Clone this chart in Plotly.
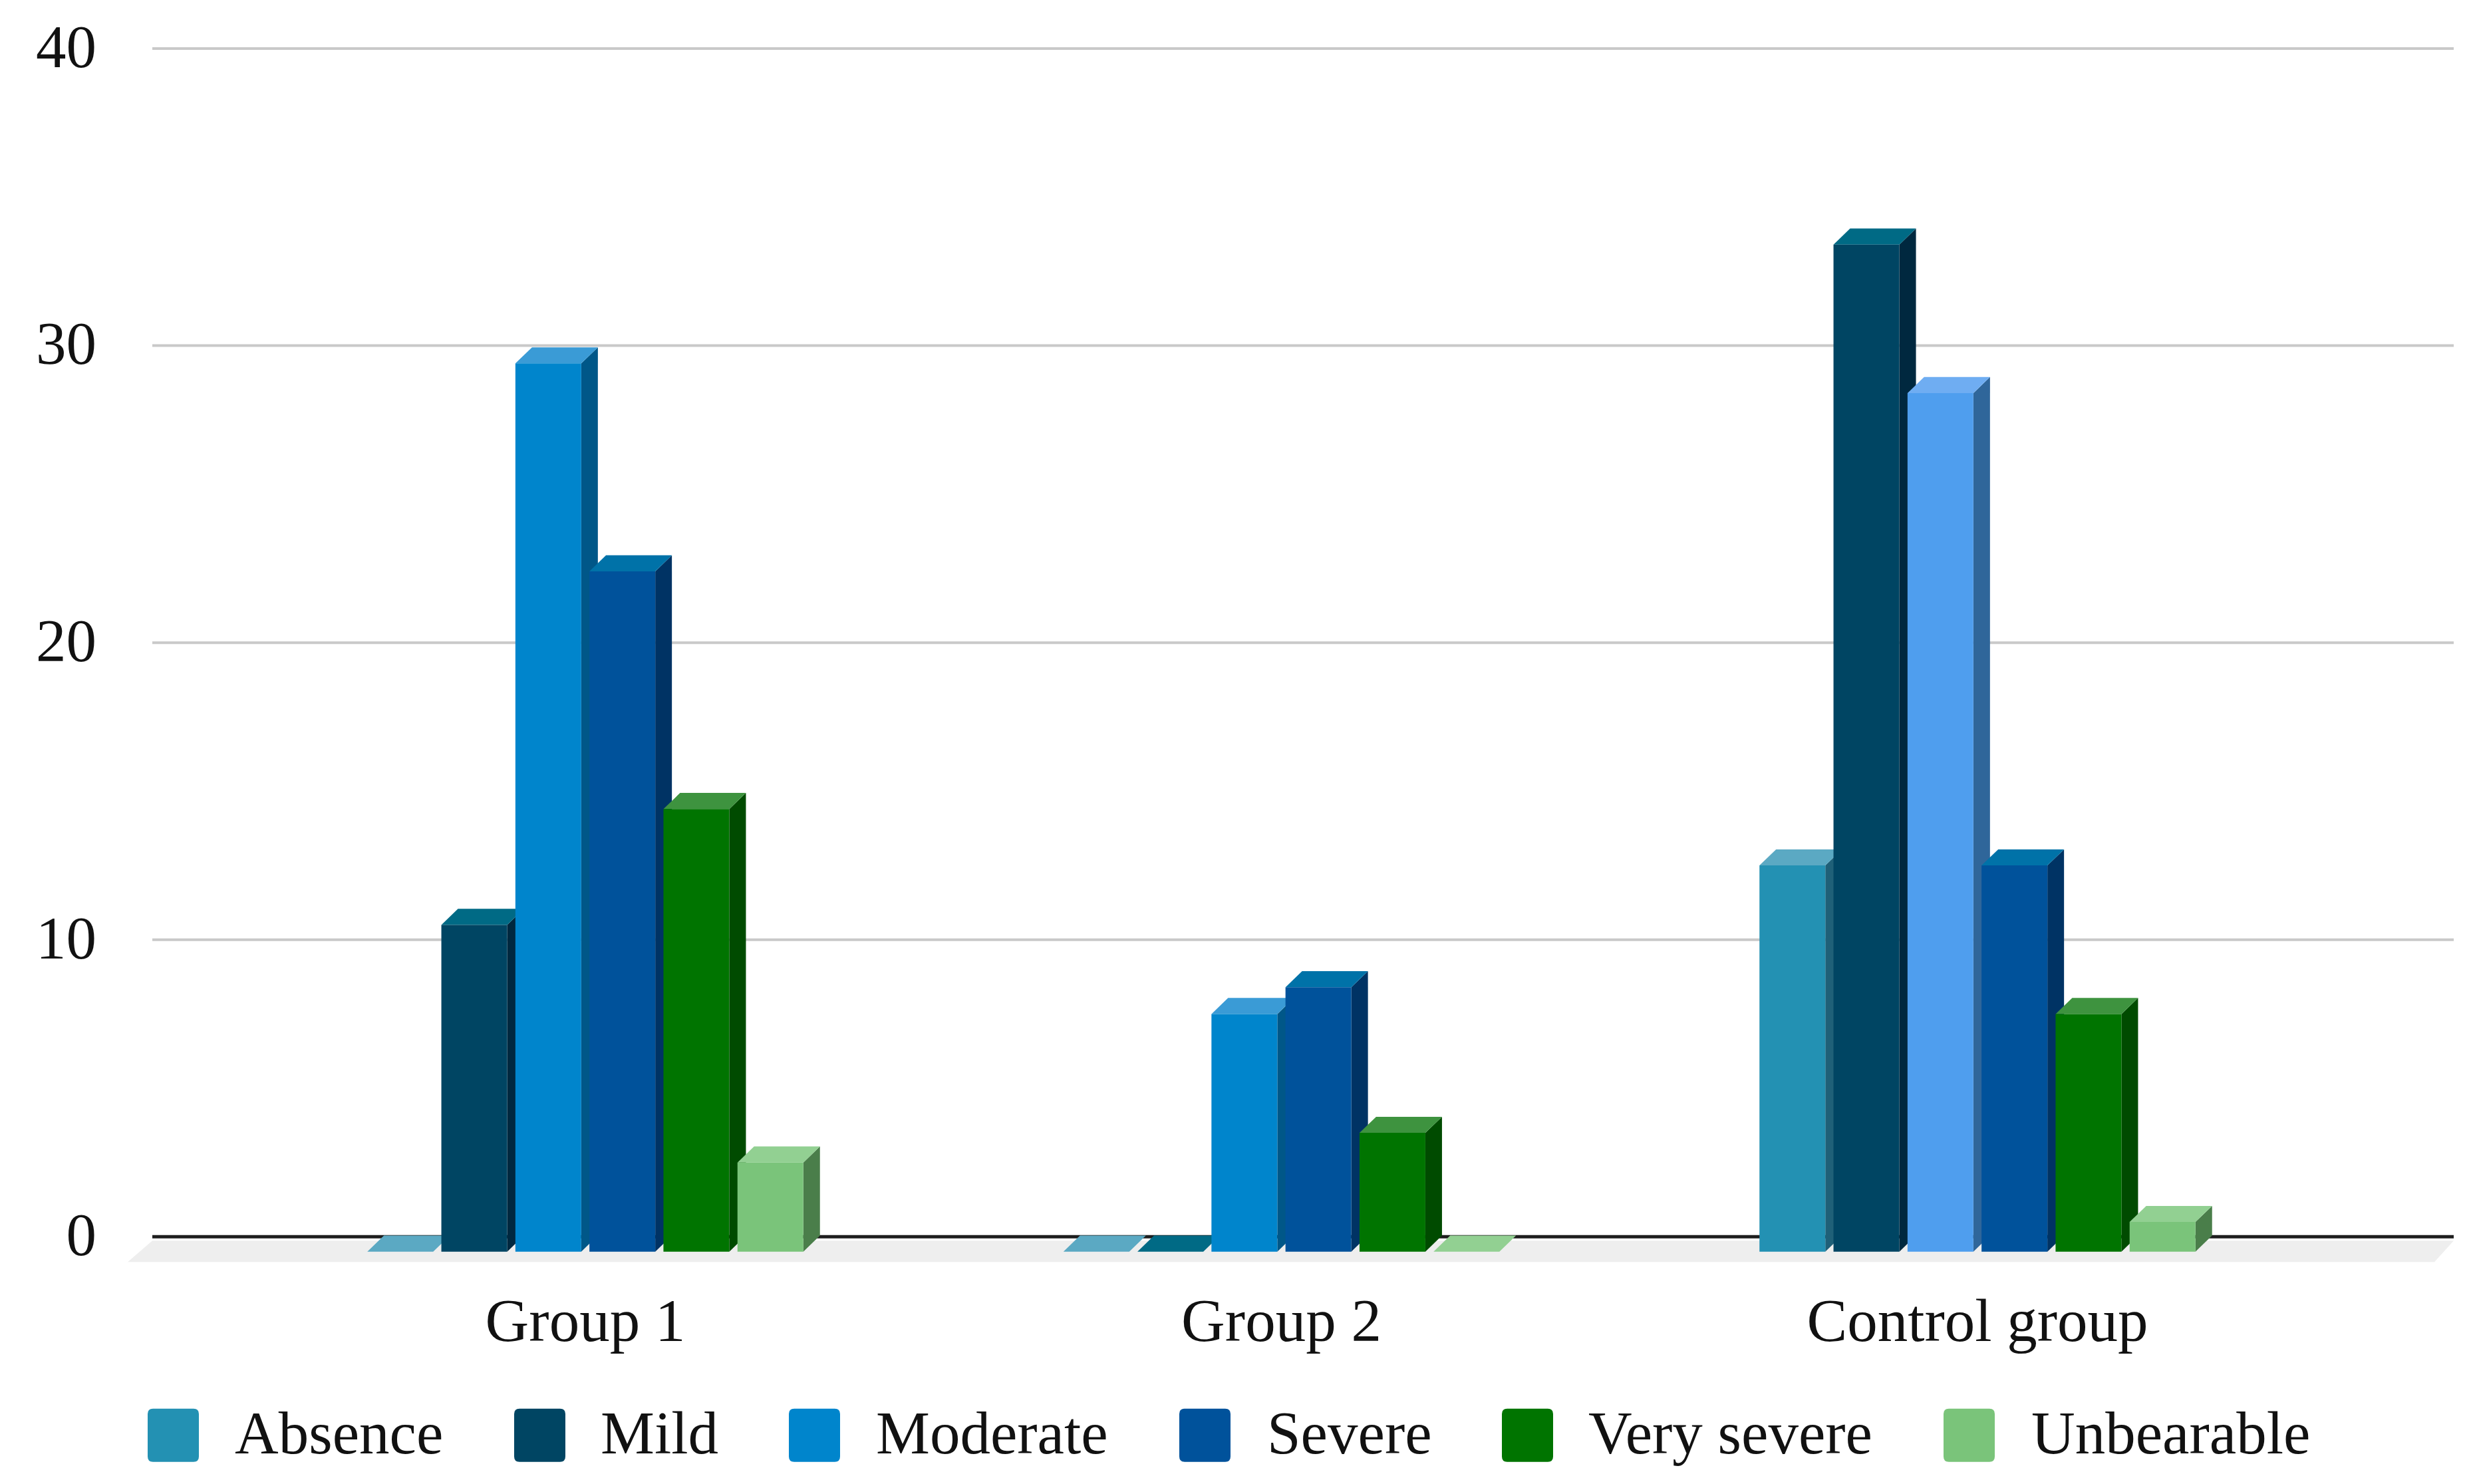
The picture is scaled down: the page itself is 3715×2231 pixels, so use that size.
import plotly.graph_objects as go

# ---- data ----
groups = ["Group 1", "Group 2", "Control group"]
series = ["Absence", "Mild", "Moderate", "Severe", "Very severe", "Unbearable"]
absence = [0, 0, 13]
mild = [11, 0, 33.9]
moderate = [29.9, 8, 28.9]
severe = [22.9, 8.9, 13]
very_severe = [14.9, 4, 8]
unbearable = [3, 0, 1]
y_ticks = [0, 10, 20, 30, 40]

values = [absence, mild, moderate, severe, very_severe, unbearable]

# ---- styles ----
FRONT = ["#2391B3", "#004563", "#0085CC", "#00529B", "#007400", "#7AC47A"]
TOP = ["#5BA9C3", "#006A85", "#3A9BD6", "#0072A8", "#3E933F", "#92D092"]
SIDE = ["#1F6078", "#00283F", "#005788", "#003364", "#004B00", "#4A7E4A"]
# the Moderate bar of the control group has a lighter colour
OVERRIDE = {(2, 2): ("#4F9EEE", "#6FADF2", "#2F669A")}

PAGE = 8  # the page's own margin around the figure
W, H = 3715 - 2 * PAGE, 2231 - 2 * PAGE
L, R, T, B = 192 - PAGE, 3689 - PAGE, 62 - PAGE, 1904 - PAGE
GROUP_PX = 1046.5
X0_PX = 880 - PAGE
FONT = "Liberation Serif"
TXT = "#111111"


def px_x(dx):
    return dx / GROUP_PX


x_range = [(L - X0_PX) / GROUP_PX, (R - X0_PX) / GROUP_PX]
y_range = [-1.0, 40.2]
bar_w = px_x(99)
pitch = px_x(111.3)
depth_x = px_x(25)
depth_y = 0.54
base = -0.5
grid_left = (229 - PAGE - X0_PX) / GROUP_PX

fig = go.Figure()


def poly(xs, ys, color):
    fig.add_trace(go.Scatter(
        x=xs, y=ys, mode="lines", fill="toself", fillcolor=color,
        line=dict(width=0), hoverinfo="skip", showlegend=False))


# floor
poly([x_range[0], grid_left, x_range[1], x_range[1] - px_x(29)],
     [-0.85, -0.13, -0.13, -0.85], "#EEEEEE")

# grid lines and baseline
for t in y_ticks:
    fig.add_trace(go.Scatter(
        x=[grid_left, x_range[1]], y=[t, t], mode="lines",
        line=dict(color="#1E1E1E" if t == 0 else "#C9C9C9", width=5 if t == 0 else 4),
        hoverinfo="skip", showlegend=False))

# depth faces, left to right
for g in range(len(groups)):
    for s in range(len(series)):
        v = values[s][g]
        front, top, side = FRONT[s], TOP[s], SIDE[s]
        if (g, s) in OVERRIDE:
            front, top, side = OVERRIDE[(g, s)]
        xl = g + (s - 2.5) * pitch - bar_w / 2
        xr = xl + bar_w
        ytop = base + v
        if v > 0:
            poly([xr, xr + depth_x, xr + depth_x, xr],
                 [base, base + depth_y, ytop + depth_y, ytop], side)
        poly([xl, xr, xr + depth_x, xl + depth_x],
             [ytop, ytop, ytop + depth_y, ytop + depth_y], top)

# front faces (overlay axes keep them above every depth face)
for s, name in enumerate(series):
    colors = [OVERRIDE.get((g, s), (FRONT[s],))[0] for g in range(len(groups))]
    fig.add_trace(go.Bar(
        x=[g + (s - 2.5) * pitch for g in range(len(groups))],
        y=values[s], base=base, width=bar_w, name=name,
        marker=dict(color=colors, line=dict(width=0)),
        xaxis="x2", yaxis="y2", showlegend=False))

layout_shapes = []
layout_annotations = []

# legend built from real text + swatches (native swatches cannot get this large)
swatch_left = [222, 773, 1186, 1773, 2258, 2922]
label_left = [352, 902, 1316, 1904, 2387, 3053]
sw_w, sw_h, sw_top, r = 77, 80, 2118, 8


def fx(p):
    return (p - PAGE - L) / (R - L)


def fy(p):
    return 1 - (p - PAGE - T) / (B - T)


for s, name in enumerate(series):
    a, b = swatch_left[s], swatch_left[s] + sw_w
    c, d = sw_top, sw_top + sw_h
    path = (f"M {fx(a + r)} {fy(c)} L {fx(b - r)} {fy(c)} Q {fx(b)} {fy(c)} {fx(b)} {fy(c + r)} "
            f"L {fx(b)} {fy(d - r)} Q {fx(b)} {fy(d)} {fx(b - r)} {fy(d)} "
            f"L {fx(a + r)} {fy(d)} Q {fx(a)} {fy(d)} {fx(a)} {fy(d - r)} "
            f"L {fx(a)} {fy(c + r)} Q {fx(a)} {fy(c)} {fx(a + r)} {fy(c)} Z")
    layout_shapes.append(dict(type="path", xref="paper", yref="paper", path=path,
                              fillcolor=FRONT[s], line=dict(width=0)))
    layout_annotations.append(dict(
        xref="paper", yref="paper", x=fx(label_left[s]), y=fy(2155),
        text=name, showarrow=False, xanchor="left", yanchor="middle",
        font=dict(family=FONT, size=91, color=TXT), borderpad=0))

fig.update_layout(
    width=W, height=H, autosize=False,
    margin=dict(l=L, r=W - R, t=T, b=H - B, pad=0),
    paper_bgcolor="white", plot_bgcolor="white",
    barmode="overlay", showlegend=False,
    font=dict(family=FONT, size=91, color=TXT),
    shapes=layout_shapes, annotations=layout_annotations,
    xaxis=dict(range=x_range, tickmode="array", tickvals=list(range(len(groups))),
               ticktext=groups, showgrid=False, zeroline=False, showline=False,
               ticks="", ticklabelstandoff=20, fixedrange=True),
    yaxis=dict(range=y_range, tickmode="array", tickvals=y_ticks,
               showgrid=False, zeroline=False, showline=False,
               ticks="", ticklabelstandoff=46, ticklabelshift=-4, fixedrange=True),
    xaxis2=dict(range=x_range, overlaying="x", visible=False, fixedrange=True),
    yaxis2=dict(range=y_range, overlaying="y", visible=False, fixedrange=True),
)

fig.write_html("out.html")
